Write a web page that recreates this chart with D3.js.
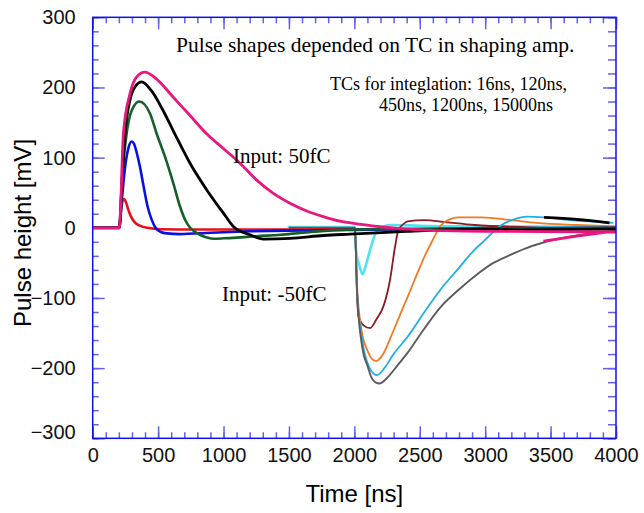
<!DOCTYPE html>
<html>
<head>
<meta charset="utf-8">
<script src="https://cdn.jsdelivr.net/npm/d3@7"></script>
<style>
  body { margin: 0; background: #fff; }
  svg { display: block; }
</style>
</head>
<body>
<div id="chart"></div>
<script>
// tick values
const xTicks = [0, 500, 1000, 1500, 2000, 2500, 3000, 3500, 4000];
const yTicks = [-300, -200, -100, 0, 100, 200, 300];

// positive input (50fC), [time ns, mV]
const pos16 = [[0,0],[203,0],[215,22],[228,38],[240,41],[255,36],[270,27],[290,17],[320,8],[360,3],[420,0],[520,-2],[800,-2.5],[1500,-2.5],[2000,-2],[3000,-1.5],[4000,-1]];
const pos120 = [[0,0],[203,0],[225,45],[250,90],[275,115],[297,123],[315,120],[335,108],[360,88],[390,58],[420,30],[450,12],[480,0],[520,-6],[568,-8],[665,-9],[900,-7],[1200,-5],[1485,-4],[2000,-3],[3000,-1],[4000,0]];
const pos450 = [[0,0],[203,0],[225,70],[259,134],[298,167],[356,180],[438,163],[489,134],[553,101],[617,63],[668,30],[710,10],[745,0],[800,-8],[860,-13],[920,-15.5],[1000,-15],[1100,-14],[1250,-12],[1436,-10],[1600,-7],[1900,-3],[2200,-2],[3000,-1],[4000,0]];
const pos1200 = [[0,0],[203,0],[225,70],[247,134],[285,182],[324,201],[374,208],[450,195],[530,170],[614,139],[744,92],[872,54],[999,21],[1075,2],[1203,-10],[1305,-16],[1509,-15],[1764,-11],[1968,-9],[2400,-5],[2960,-2],[3300,-3],[4000,-2],
                 null,[3450,15],[3700,12],[3950,7]];
const pos15000 = [[0,0],[203,0],[235,135],[285,191],[336,215],[399,222],[489,212],[616,186],[744,160],[871,134],[999,113],[1126,92],[1254,68],[1381,49],[1508,35],[1636,24],[1763,16],[1900,9],[2050,5],[2197,1.5],[2500,-3],[3000,-5],[4000,-6],
                  null,[3445,-19],[3700,-12],[3930,-6]];

// negative input (-50fC)
const neg16 = [[1490,1],[2005,1],[2012,-30],[2040,-55],[2063,-66],[2090,-52],[2127,-27],[2178,-3],[2280,4],[2500,3],[3000,2],[4000,1]];
const neg120 = [[1500,0],[2005,0],[2015,-60],[2030,-125],[2070,-139],[2120,-143],[2170,-130],[2222,-112],[2273,-74],[2311,-27],[2337,-3],[2380,6],[2408,9],[2536,11],[2700,8],[2920,4],[3500,0],[4000,-2]];
const neg450 = [[1500,0],[2005,0],[2020,-80],[2050,-140],[2100,-175],[2165,-190],[2220,-180],[2280,-155],[2340,-128],[2408,-98],[2470,-70],[2536,-41],[2600,-17],[2664,4],[2730,12],[2792,15],[2971,15],[3200,11],[3394,7],[3700,4],[4000,2]];
const neg1200 = [[1500,0],[2005,0],[2020,-90],[2060,-160],[2110,-197],[2173,-210],[2230,-200],[2300,-180],[2408,-155],[2536,-120],[2655,-89],[2800,-57],[2920,-31],[2984,-20],[3125,4],[3220,12],[3318,16],[3450,15],[3650,11],[3980,7]];
const neg15000 = [[1500,0],[2005,0],[2020,-90],[2060,-170],[2101,-197],[2139,-216],[2191,-222],[2250,-214],[2330,-196],[2408,-178],[2530,-145],[2664,-112],[2800,-88],[2920,-69],[3063,-50],[3176,-40],[3300,-30],[3445,-21],[3700,-11],[4000,-4]];

const width = 644, height = 513;
const marginLeft = 92.7, marginRight = 28, marginTop = 17.3, marginBottom = 74.7;

const svg = d3.select('#chart').append('svg')
  .attr('width', width).attr('height', height)
  .attr('viewBox', [0, 0, width, height]);

const x = d3.scaleLinear().domain([0, 4000]).range([marginLeft, width - marginRight]);
const y = d3.scaleLinear().domain([-300, 300]).range([height - marginBottom, marginTop]);

svg.append('clipPath').attr('id', 'plot')
  .append('rect')
  .attr('x', x(0)).attr('y', y(300))
  .attr('width', x(4000) - x(0)).attr('height', y(-300) - y(300));

const tickColor = '#6262f0';
const minorX = d3.range(0, 4001, 100);
const minorY = d3.range(-300, 301, 20);

function drawAxis(axis, tx, ty) {
  const g = svg.append('g').attr('transform', `translate(${tx},${ty})`).call(axis);
  g.select('.domain').remove();
  g.selectAll('.tick line').attr('stroke', tickColor).attr('stroke-width', 1.5);
  return g;
}

// minor ticks, all four sides, pointing inward
drawAxis(d3.axisBottom(x).tickValues(minorX).tickSize(-6).tickFormat(''), 0, y(-300));
drawAxis(d3.axisTop(x).tickValues(minorX).tickSize(-6).tickFormat(''), 0, y(300));
drawAxis(d3.axisLeft(y).tickValues(minorY).tickSize(-6).tickFormat(''), x(0), 0);
drawAxis(d3.axisRight(y).tickValues(minorY).tickSize(-8).tickFormat(''), x(4000), 0);

// major ticks
const labelFont = "'Liberation Sans', Arial, sans-serif";
const xAx = drawAxis(d3.axisBottom(x).tickValues(xTicks).tickSize(-12).tickPadding(20).tickFormat(d3.format('d')), 0, y(-300));
drawAxis(d3.axisTop(x).tickValues(xTicks).tickSize(-12).tickFormat(''), 0, y(300));
const yAx = drawAxis(d3.axisLeft(y).tickValues(yTicks).tickSize(-12).tickPadding(17)
  .tickFormat(d => d < 0 ? '\u2212' + Math.abs(d) : d), x(0), 0);
drawAxis(d3.axisRight(y).tickValues(yTicks).tickSize(-13).tickFormat(''), x(4000), 0);

xAx.selectAll('text').attr('font-family', labelFont).attr('font-size', 20).attr('fill', '#111').attr('dy', '0.2em');
yAx.selectAll('text').attr('font-family', labelFont).attr('font-size', 20).attr('fill', '#111')
  .attr('transform', d => d === -300 ? 'translate(0,-6)' : null);

// curves
const line = d3.line()
  .defined(d => d !== null)
  .x(d => x(d[0])).y(d => y(d[1]))
  .curve(d3.curveMonotoneX);

const series = [
  { data: neg16, color: '#4fe3f2', w: 2.6 },
  { data: neg120, color: '#8b1a22', w: 1.8 },
  { data: neg450, color: '#f47a22', w: 1.8 },
  { data: neg1200, color: '#1eaee8', w: 1.8 },
  { data: neg15000, color: '#5c5c5c', w: 1.9 },
  { data: pos16, color: '#e8101a', w: 2.6 },
  { data: pos120, color: '#0a10e0', w: 2.6 },
  { data: pos450, color: '#15602a', w: 2.6 },
  { data: pos1200, color: '#000000', w: 2.8 },
  { data: pos15000, color: '#ea167f', w: 2.8 }
];

svg.append('g').attr('clip-path', 'url(#plot)')
  .selectAll('path')
  .data(series)
  .join('path')
  .attr('fill', 'none')
  .attr('stroke', d => d.color)
  .attr('stroke-width', d => d.w)
  .attr('stroke-linejoin', 'round')
  .attr('d', d => line(d.data));

// frame
svg.append('rect')
  .attr('x', x(0)).attr('y', y(300))
  .attr('width', x(4000) - x(0)).attr('height', y(-300) - y(300))
  .attr('fill', 'none').attr('stroke', '#1010e8').attr('stroke-width', 1.5);

// annotations
const serif = "'Liberation Serif', 'Times New Roman', serif";
svg.append('text').attr('x', 176).attr('y', 52).attr('font-family', serif).attr('font-size', 21.5)
  .text('Pulse shapes depended on TC in shaping amp.');
svg.append('text').attr('x', 330).attr('y', 90).attr('font-family', serif).attr('font-size', 18)
  .text('TCs for integlation: 16ns, 120ns,');
svg.append('text').attr('x', 379).attr('y', 111).attr('font-family', serif).attr('font-size', 18)
  .text('450ns, 1200ns, 15000ns');
svg.append('text').attr('x', 233).attr('y', 163).attr('font-family', serif).attr('font-size', 21)
  .text('Input: 50fC');
svg.append('text').attr('x', 222).attr('y', 301).attr('font-family', serif).attr('font-size', 21)
  .text('Input: -50fC');

// axis titles
svg.append('text').attr('x', (x(0) + x(4000)) / 2).attr('y', 502)
  .attr('text-anchor', 'middle').attr('font-family', labelFont).attr('font-size', 24)
  .text('Time [ns]');
svg.append('text').attr('transform', 'rotate(-90)')
  .attr('x', -233).attr('y', 31)
  .attr('text-anchor', 'middle').attr('font-family', labelFont).attr('font-size', 24)
  .text('Pulse height [mV]');
</script>
</body>
</html>
